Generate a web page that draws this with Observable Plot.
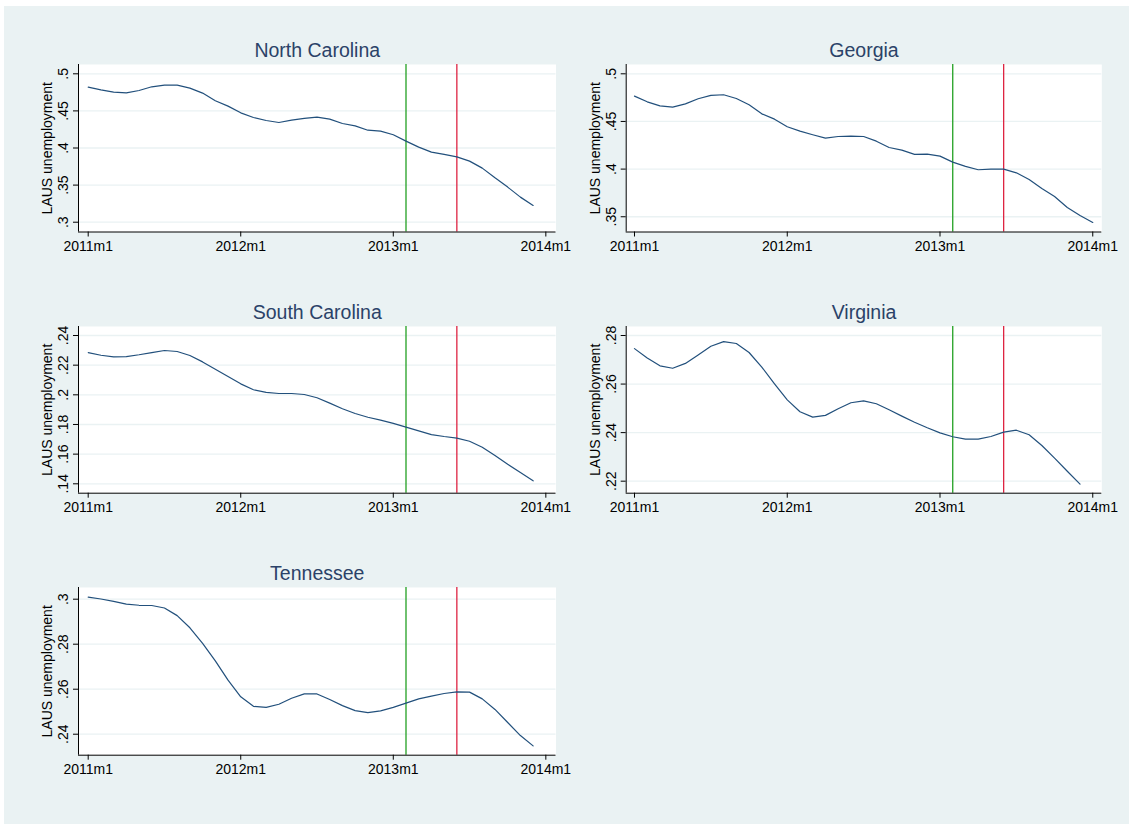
<!DOCTYPE html>
<html>
<head>
<meta charset="utf-8">
<script src="https://cdn.jsdelivr.net/npm/d3@7"></script>
<script src="https://cdn.jsdelivr.net/npm/@observablehq/plot@0.6"></script>
<style>
  html, body { margin: 0; padding: 0; background: #ffffff; }
  #page { position: relative; width: 1129px; height: 824px; overflow: hidden; }
  #bg { position: absolute; left: 4px; top: 6px; width: 1125px; height: 818px; background: #EAF2F3; }
  .panel { position: absolute; }
</style>
</head>
<body>
<div id="page"><div id="bg"></div></div>
<script>
// ---------------- data ----------------
const months = [
  "2011m1","2011m2","2011m3","2011m4","2011m5","2011m6","2011m7","2011m8","2011m9","2011m10","2011m11","2011m12",
  "2012m1","2012m2","2012m3","2012m4","2012m5","2012m6","2012m7","2012m8","2012m9","2012m10","2012m11","2012m12",
  "2013m1","2013m2","2013m3","2013m4","2013m5","2013m6","2013m7","2013m8","2013m9","2013m10","2013m11","2013m12",
  "2014m1"
];
const xTickLabels = ["2011m1", "2012m1", "2013m1", "2014m1"];
const eventMonths = ["2013m2", "2013m6"];
const yLabel = "LAUS unemployment";

const stateNames = ["North Carolina", "Georgia", "South Carolina", "Virginia", "Tennessee"];

const northCarolina = [0.482,0.4784,0.4753,0.4744,0.4775,0.4825,0.4847,0.4847,0.4807,0.474,0.4636,0.4564,
  0.4474,0.4411,0.4371,0.4344,0.4375,0.4398,0.4416,0.4389,0.433,0.4299,0.424,0.4227,
  0.4178,0.4093,0.4012,0.3944,0.3913,0.3881,0.3823,0.3729,0.3598,0.3473,0.3338,0.3226];
const georgia = [0.4766,0.4706,0.4664,0.465,0.4685,0.4738,0.4773,0.478,0.4741,0.4675,0.458,0.4524,
  0.4444,0.4398,0.436,0.4325,0.4342,0.4346,0.4342,0.4293,0.4227,0.4199,0.4154,0.4157,
  0.4136,0.4073,0.4028,0.3993,0.4,0.4,0.3961,0.3891,0.3797,0.3713,0.3597,0.3513,0.344];
const southCarolina = [0.2285,0.2267,0.2256,0.2258,0.227,0.2285,0.2299,0.2292,0.2265,0.2222,0.2173,0.2124,
  0.2074,0.2034,0.2016,0.2009,0.2009,0.2002,0.198,0.1944,0.1906,0.1874,0.1849,0.1829,
  0.1807,0.1782,0.1757,0.1732,0.1719,0.1708,0.1687,0.1647,0.1591,0.1532,0.1476,0.142];
const virginia = [0.2746,0.2707,0.2675,0.2665,0.2685,0.272,0.2756,0.2775,0.2767,0.273,0.267,0.2601,
  0.2535,0.2486,0.2464,0.2471,0.2498,0.2523,0.2531,0.2519,0.2494,0.2468,0.2443,0.242,
  0.2399,0.2383,0.2373,0.2373,0.2384,0.2402,0.241,0.2391,0.2347,0.2295,0.2241,0.2188];
const tennessee = [0.3009,0.3001,0.299,0.2978,0.2973,0.2972,0.2961,0.2927,0.2873,0.2804,0.2726,0.264,
  0.2566,0.2524,0.2519,0.2533,0.256,0.2579,0.2579,0.2554,0.2527,0.2505,0.2496,0.2504,
  0.2519,0.2538,0.2557,0.2569,0.2581,0.2588,0.2587,0.2557,0.251,0.2452,0.2394,0.2348];

const yTicksNC = [0.3, 0.35, 0.4, 0.45, 0.5];
const yTicksGA = [0.35, 0.4, 0.45, 0.5];
const yTicksSC = [0.14, 0.16, 0.18, 0.2, 0.22, 0.24];
const yTicksVA = [0.22, 0.24, 0.26, 0.28];
const yTicksTN = [0.24, 0.26, 0.28, 0.3];

const seriesList = [northCarolina, georgia, southCarolina, virginia, tennessee];
const yTickList = [yTicksNC, yTicksGA, yTicksSC, yTicksVA, yTicksTN];

// ---------------- layout (positions / styles) ----------------
const layout = [
  {left: 0,   top: 0,   width: 565, ml: 78,   mr: 9.5,  mb: 38.5, xDomain: [-0.763, 36.80], yDomain: [0.2868, 0.51253]},
  {left: 565, top: 0,   width: 564, ml: 60.7, mr: 27.7, mb: 38.5, xDomain: [-0.652, 36.71], yDomain: [0.3340, 0.50976]},
  {left: 0,   top: 262, width: 565, ml: 78,   mr: 9.5,  mb: 39.3, xDomain: [-0.763, 36.80], yDomain: [0.13366, 0.24607]},
  {left: 565, top: 262, width: 564, ml: 60.7, mr: 27.7, mb: 39.3, xDomain: [-0.652, 36.71], yDomain: [0.21505, 0.28371]},
  {left: 0,   top: 523, width: 565, ml: 78,   mr: 9.5,  mb: 38.3, xDomain: [-0.763, 36.80], yDomain: [0.23067, 0.3052]}
];
const H = 270;
const font = "'Liberation Sans', Arial, Helvetica, sans-serif";
const lineColor = "#22507C";
const gridColor = "#EAF2F3";
const titleColor = "#2B4268";
const eventColors = ["#22A022", "#DE2442"];

const monthIndex = (s) => { const [y, m] = s.split("m").map(Number); return (y - 2011) * 12 + (m - 1); };
const xTicks = xTickLabels.map(monthIndex);
const xFmt = (d) => xTickLabels[xTicks.indexOf(d)];
const yFmt = (d) => d3.format("~g")(d).replace(/^0\./, ".");

const page = document.getElementById("page");

stateNames.forEach((name, k) => {
  const lay = layout[k];
  const values = seriesList[k];
  const data = values.map((v, i) => ({t: monthIndex(months[i]), v}));
  const yTicks = yTickList[k];
  const chart = Plot.plot({
    width: lay.width,
    height: H,
    marginLeft: lay.ml,
    marginRight: lay.mr,
    marginTop: 64,
    marginBottom: lay.mb,
    style: {background: "transparent", fontFamily: font, color: "#000", overflow: "visible"},
    x: {domain: lay.xDomain},
    y: {domain: lay.yDomain},
    marks: [
      Plot.frame({fill: "white", stroke: null}),
      Plot.gridY(yTicks, {stroke: gridColor, strokeOpacity: 1, strokeWidth: 1.3}),
      Plot.ruleX([monthIndex(eventMonths[0])], {stroke: eventColors[0], strokeWidth: 1.3}),
      Plot.ruleX([monthIndex(eventMonths[1])], {stroke: eventColors[1], strokeWidth: 1.3}),
      Plot.lineY(data, {x: "t", y: "v", stroke: lineColor, strokeWidth: 1.2}),
      Plot.ruleX([lay.xDomain[0]], {stroke: "#000", strokeWidth: 1}),
      Plot.ruleY([lay.yDomain[0]], {stroke: "#000", strokeWidth: 1}),
      Plot.axisX(xTicks, {tickFormat: xFmt, tickSize: 5, tickPadding: 4, fontSize: 14, label: null, stroke: "#000"}),
      Plot.axisY(yTicks, {tickFormat: yFmt, tickSize: 5, tickPadding: 10, tickRotate: -90,
        textAnchor: "middle", lineAnchor: "middle", fontSize: 14, label: null, stroke: "#000"}),
      Plot.text([name], {frameAnchor: "top", dy: -14, lineAnchor: "middle", fontSize: 19.5, fill: titleColor}),
      Plot.text([yLabel], {frameAnchor: "left", dx: -31, rotate: -90, textAnchor: "middle", lineAnchor: "middle", fontSize: 14, fill: "#000"})
    ]
  });
  chart.classList.add("panel");
  chart.style.left = lay.left + "px";
  chart.style.top = lay.top + "px";
  page.appendChild(chart);
});
</script>
</body>
</html>
